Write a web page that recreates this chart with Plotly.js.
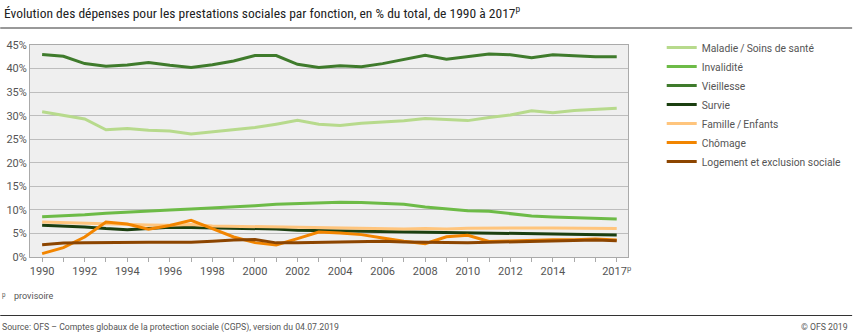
<!DOCTYPE html>
<html><head><meta charset="utf-8">
<script src="https://cdn.plot.ly/plotly-3.0.1.min.js"></script>
<style>body{margin:0;background:#fff}#c{width:859px;height:335px}</style>
</head><body><div id="c"></div>
<script>
const years = [1990,1991,1992,1993,1994,1995,1996,1997,1998,1999,2000,2001,2002,2003,2004,2005,2006,2007,2008,2009,2010,2011,2012,2013,2014,2015,2016,2017];
const maladie   = [30.85,30.1,29.3,27.0,27.25,26.9,26.75,26.1,26.55,27.0,27.5,28.2,29.0,28.2,27.9,28.4,28.7,28.9,29.4,29.2,28.95,29.6,30.15,31.05,30.6,31.1,31.35,31.6];
const invalidite= [8.57,8.7,8.95,9.28,9.56,9.77,9.98,10.2,10.4,10.62,10.9,11.2,11.33,11.47,11.6,11.55,11.33,11.2,10.6,10.27,9.84,9.7,9.2,8.71,8.5,8.36,8.22,8.08];
const vieillesse= [43.0,42.6,41.05,40.5,40.75,41.3,40.7,40.2,40.8,41.6,42.75,42.75,40.9,40.25,40.6,40.4,41.05,42.0,42.8,42.0,42.6,43.1,42.95,42.3,42.95,42.75,42.5,42.5];
const survie    = [6.73,6.59,6.38,6.03,5.81,6.03,6.3,6.24,6.17,6.03,5.95,5.95,5.67,5.6,5.53,5.53,5.53,5.46,5.39,5.32,5.25,5.18,5.11,4.97,4.9,4.75,4.68,4.68];
const famille   = [7.44,7.3,7.1,6.95,6.88,6.81,6.73,6.88,6.59,6.52,6.45,6.45,6.38,6.24,6.1,6.03,6.03,5.95,6.03,5.95,6.1,6.17,6.17,6.17,6.17,6.17,6.03,6.03];
const chomage   = [0.71,1.98,4.25,7.44,7.0,5.9,6.7,7.8,6.0,4.25,3.05,2.57,3.9,5.3,5.1,4.75,4.04,3.33,2.84,4.3,4.62,3.3,3.4,3.6,3.68,3.68,3.82,3.6];
const logement  = [2.62,2.98,3.05,3.12,3.12,3.12,3.12,3.12,3.33,3.62,3.69,3.0,3.05,3.12,3.12,3.26,3.33,3.19,3.12,2.98,3.05,3.12,3.19,3.26,3.33,3.4,3.62,3.47];
const seriesNames = ["Maladie\u2009/\u2009Soins de santé","Invalidité","Vieillesse","Survie","Famille\u2009/\u2009Enfants","Chômage","Logement et exclusion sociale"];
const seriesColors = ["#b7da8c","#6dbb47","#3f7b2c","#1b3f10","#ffc57d","#f28500","#8c4500"];
const yTicks = [0,5,10,15,20,25,30,35,40,45];
const yTickText = yTicks.map(v => v + "%");
const xTickText = years.map(y => y===2017 ? "2017<sup>p</sup>" : (y%2===0 && y<=2014 ? String(y) : ""));

const allSeries = [maladie,invalidite,vieillesse,survie,famille,chomage,logement];
const traces = allSeries.map((s,i)=>({
  x: years, y: s, type:'scatter', mode:'lines', name: seriesNames[i],
  line:{color:seriesColors[i], width:3}
}));

const W=859,H=335,L=30,R=226,T=45,B=78;
const pw=W-L-R, ph=H-T-B;
const px2x = p => (p-L)/pw;
const py2y = p => (H-B-p)/ph;
const narrow = '"Liberation Sans Narrow", "Roboto Condensed", "DejaVu Sans Condensed", sans-serif';

const layout = {
  width:W, height:H, margin:{l:L,r:R,t:T,b:B,pad:0},
  paper_bgcolor:'#fff', plot_bgcolor:'#efefef',
  font:{family:'Roboto, sans-serif', size:11, color:'#555'},
  showlegend:true,
  legend:{x:px2x(667), y:py2y(33), xanchor:'left', yanchor:'top', font:{size:10.3,color:'#555',family:'Roboto, sans-serif'}, bgcolor:'rgba(0,0,0,0)', tracegroupgap:0},
  title:{text:'Évolution des dépenses pour les prestations sociales par fonction, en % du total, de 1990 à 2017<sup>p</sup>', xref:'container', yref:'container', x:4/W, xanchor:'left', y:1-13/H, yanchor:'middle', font:{family:narrow, size:13.5, color:'#222'}},
  xaxis:{range:[1989.43,2017.53], tickmode:'array', tickvals:years, ticktext:xTickText, ticks:'outside', ticklen:4, tickcolor:'#aaa', showgrid:false, zeroline:false, showline:true, linecolor:'#aaa', linewidth:1, mirror:true, tickfont:{size:11,color:'#555'}, fixedrange:true},
  yaxis:{range:[0,45], tickmode:'array', tickvals:yTicks, ticktext:yTickText, showgrid:true, gridcolor:'#bdbdbd', gridwidth:1, zeroline:false, showline:true, linecolor:'#aaa', linewidth:1, mirror:true, ticks:'', tickfont:{size:11,color:'#555'}, fixedrange:true},
  shapes:[
    {type:'line', xref:'paper', yref:'paper', x0:px2x(0), x1:px2x(W), y0:py2y(28), y1:py2y(28), line:{color:'#333',width:1}},
    {type:'line', xref:'paper', yref:'paper', x0:px2x(0), x1:px2x(W), y0:py2y(315.5), y1:py2y(315.5), line:{color:'#333',width:1}}
  ],
  annotations:[
    {text:'<sup>p</sup>', xref:'paper', yref:'paper', x:px2x(0), y:py2y(295), xanchor:'left', yanchor:'middle', showarrow:false, font:{family:'Roboto, sans-serif', size:9, color:'#555'}},
    {text:'provisoire', xref:'paper', yref:'paper', x:px2x(12), y:py2y(296), xanchor:'left', yanchor:'middle', showarrow:false, font:{family:'Roboto, sans-serif', size:9, color:'#555'}},
    {text:'Source: OFS – Comptes globaux de la protection sociale (CGPS), version du 04.07.2019', xref:'paper', yref:'paper', x:px2x(0), y:py2y(327), xanchor:'left', yanchor:'middle', showarrow:false, font:{family:'Roboto, sans-serif', size:8.7, color:'#555'}},
    {text:'© OFS 2019', xref:'paper', yref:'paper', x:px2x(857), y:py2y(327), xanchor:'right', yanchor:'middle', showarrow:false, font:{family:'Roboto, sans-serif', size:8.7, color:'#555'}}
  ]
};
Plotly.newPlot('c', traces, layout, {staticPlot:true, displayModeBar:false});
</script></body></html>
